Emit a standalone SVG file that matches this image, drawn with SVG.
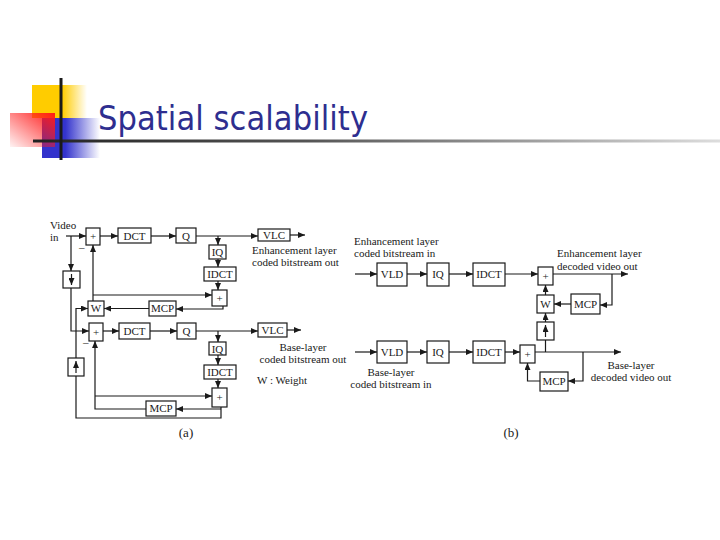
<svg xmlns="http://www.w3.org/2000/svg" width="720" height="540" viewBox="0 0 720 540">
<style>
.box{fill:#fff;stroke:#1a1a1a;stroke-width:1.2}
.bl{font-family:"Liberation Serif","Times New Roman",serif;font-size:11px;fill:#1a1a1a;text-anchor:middle}
.tx{font-family:"Liberation Serif","Times New Roman",serif;font-size:11px;fill:#1a1a1a}
.cap{font-family:"Liberation Serif","Times New Roman",serif;font-size:13px;fill:#1a1a1a;text-anchor:middle}
.ln{fill:none;stroke:#1a1a1a;stroke-width:1.2}
.ar{marker-end:url(#ah)}
</style>
<defs>
<marker id="ah" markerUnits="userSpaceOnUse" markerWidth="7" markerHeight="6" refX="7" refY="3" orient="auto">
<path d="M0,0 L7,3 L0,6 z" fill="#1a1a1a"/>
</marker>
<linearGradient id="gy" x1="0" y1="0" x2="1" y2="0">
<stop offset="0" stop-color="#ffcc00"/><stop offset="0.55" stop-color="#ffcc00"/><stop offset="1" stop-color="#ffcc00" stop-opacity="0"/>
</linearGradient>
<linearGradient id="gb" x1="0" y1="0" x2="1" y2="0">
<stop offset="0" stop-color="#3333cc"/><stop offset="0.4" stop-color="#3333cc"/><stop offset="1" stop-color="#3333cc" stop-opacity="0"/>
</linearGradient>
<linearGradient id="gr" x1="1" y1="0" x2="0" y2="1">
<stop offset="0" stop-color="#ff1a1a"/><stop offset="1" stop-color="#ff1a1a" stop-opacity="0.05"/>
</linearGradient>
<linearGradient id="gl" x1="0" y1="0" x2="1" y2="0">
<stop offset="0" stop-color="#222"/><stop offset="0.4" stop-color="#555"/><stop offset="1" stop-color="#ddd"/>
</linearGradient>
</defs>
<rect width="720" height="540" fill="#fff"/>

<g id="title-deco">
<rect x="32" y="85" width="55" height="33" fill="url(#gy)"/>
<rect x="42" y="118" width="58" height="40" fill="url(#gb)"/>
<rect x="10" y="113" width="45" height="34" fill="url(#gr)"/>
<rect x="33" y="139.5" width="687" height="3" fill="url(#gl)"/>
<rect x="59.5" y="78" width="3" height="82" fill="#1a1a1a"/>
</g>
<text id="title" x="98" y="130" font-family="'DejaVu Sans Condensed','DejaVu Sans',sans-serif" font-size="34" fill="#2e2e8f" textLength="270">Spatial scalability</text>

<g id="connectors">
<!-- (a) -->
<path class="ln ar" d="M66,236 H86"/>
<path class="ln ar" d="M71,236 V271"/>
<path class="ln ar" d="M100,236 H118"/>
<path class="ln ar" d="M151,236 H176"/>
<path class="ln ar" d="M196,236 H258"/>
<path class="ln ar" d="M290,235 H305"/>
<path class="ln ar" d="M218,236 V245"/>
<path class="ln ar" d="M218,259 V267"/>
<path class="ln ar" d="M218,281 V290"/>
<path class="ln ar" d="M93,301 V245"/>
<path class="ln ar" d="M93,295 H212"/>
<path class="ln ar" d="M223,306 V309 H176"/>
<path class="ln ar" d="M149,308.5 H104"/>
<path class="ln ar" d="M71,288 V331 H89"/>
<path class="ln ar" d="M76,358 V308.5 H88"/>
<path class="ln ar" d="M103,331 H119"/>
<path class="ln ar" d="M150,331 H177"/>
<path class="ln ar" d="M196,331 H258"/>
<path class="ln ar" d="M287,330 H301"/>
<path class="ln ar" d="M218,331 V342"/>
<path class="ln ar" d="M218,355 V365"/>
<path class="ln ar" d="M218,379 V388"/>
<path class="ln ar" d="M146,409 H95 V341"/>
<path class="ln ar" d="M95,396 H212"/>
<path class="ln" d="M221,407 V418 H76 V376"/>
<path class="ln ar" d="M221,409 H176"/>
<!-- (b) -->
<path class="ln ar" d="M355,274 H377"/>
<path class="ln ar" d="M407,274 H427"/>
<path class="ln ar" d="M449,274 H473"/>
<path class="ln ar" d="M505,274 H538"/>
<path class="ln ar" d="M553,274 H628"/>
<path class="ln ar" d="M612,274 V305 H600"/>
<path class="ln ar" d="M571,304 H554"/>
<path class="ln ar" d="M545.5,295 V285"/>
<path class="ln ar" d="M545.5,322 V313"/>
<path class="ln ar" d="M355,352 H377"/>
<path class="ln ar" d="M407,352 H427"/>
<path class="ln ar" d="M449,352 H473"/>
<path class="ln ar" d="M505,352 H520"/>
<path class="ln ar" d="M535,352 H621"/>
<path class="ln" d="M545.5,352 V340"/>
<path class="ln ar" d="M583,352 V381 H568"/>
<path class="ln ar" d="M540,381 H527.5 V363"/>
</g>

<!-- (a) nodes -->
<g id="a-add1"><rect class="box" x="86" y="228" width="14" height="17"/><text class="bl" x="93" y="240">+</text></g>
<g id="a-dct1"><rect class="box" x="118" y="228" width="33" height="15"/><text class="bl" x="134.5" y="239.5">DCT</text></g>
<g id="a-q1"><rect class="box" x="176" y="228" width="20" height="15"/><text class="bl" x="186" y="239.5">Q</text></g>
<g id="a-vlc1"><rect class="box" x="258" y="229" width="32" height="12"/><text class="bl" x="274" y="239">VLC</text></g>
<g id="a-iq1"><rect class="box" x="209" y="245" width="17" height="14"/><text class="bl" x="217.5" y="256">IQ</text></g>
<g id="a-idct1"><rect class="box" x="204" y="267" width="32" height="14"/><text class="bl" x="220" y="278">IDCT</text></g>
<g id="a-sum1"><rect class="box" x="212" y="290" width="15" height="16"/><text class="bl" x="219.5" y="301.5">+</text></g>
<g id="a-down"><rect class="box" x="63" y="271" width="17" height="17"/><path class="ln ar" d="M71.5,274 V285"/></g>
<g id="a-w"><rect class="box" x="88" y="301" width="16" height="15"/><text class="bl" x="96" y="312">W</text></g>
<g id="a-mcp1"><rect class="box" x="149" y="301" width="27" height="15"/><text class="bl" x="162.5" y="312">MCP</text></g>
<g id="a-add2"><rect class="box" x="89" y="323" width="14" height="18"/><text class="bl" x="96" y="335.5">+</text></g>
<g id="a-dct2"><rect class="box" x="119" y="323" width="31" height="16"/><text class="bl" x="134.5" y="334.5">DCT</text></g>
<g id="a-q2"><rect class="box" x="177" y="323" width="19" height="16"/><text class="bl" x="186.5" y="334.5">Q</text></g>
<g id="a-vlc2"><rect class="box" x="258" y="323" width="29" height="14"/><text class="bl" x="272.5" y="334">VLC</text></g>
<g id="a-iq2"><rect class="box" x="209" y="342" width="17" height="13"/><text class="bl" x="217.5" y="352.5">IQ</text></g>
<g id="a-idct2"><rect class="box" x="204" y="365" width="32" height="14"/><text class="bl" x="220" y="376">IDCT</text></g>
<g id="a-sum2"><rect class="box" x="212" y="388" width="15" height="19"/><text class="bl" x="219.5" y="401">+</text></g>
<g id="a-up"><rect class="box" x="68" y="358" width="16" height="18"/><path class="ln ar" d="M76,373 V361"/></g>
<g id="a-mcp2"><rect class="box" x="146" y="401" width="30" height="15"/><text class="bl" x="161" y="412">MCP</text></g>

<!-- (b) nodes -->
<g id="b-vld1"><rect class="box" x="377" y="263" width="30" height="23"/><text class="bl" x="392" y="278">VLD</text></g>
<g id="b-iq1"><rect class="box" x="427" y="263" width="22" height="23"/><text class="bl" x="438" y="278">IQ</text></g>
<g id="b-idct1"><rect class="box" x="473" y="263" width="32" height="23"/><text class="bl" x="489" y="278">IDCT</text></g>
<g id="b-sum1"><rect class="box" x="538" y="267" width="15" height="18"/><text class="bl" x="545.5" y="279.5">+</text></g>
<g id="b-w"><rect class="box" x="537" y="295" width="17" height="18"/><text class="bl" x="545.5" y="308">W</text></g>
<g id="b-mcp1"><rect class="box" x="571" y="294" width="29" height="20"/><text class="bl" x="585.5" y="308">MCP</text></g>
<g id="b-up"><rect class="box" x="537" y="322" width="17" height="18"/><path class="ln ar" d="M545.5,337 V325"/></g>
<g id="b-vld2"><rect class="box" x="377" y="341" width="30" height="22"/><text class="bl" x="392" y="356">VLD</text></g>
<g id="b-iq2"><rect class="box" x="427" y="341" width="22" height="22"/><text class="bl" x="438" y="356">IQ</text></g>
<g id="b-idct2"><rect class="box" x="473" y="341" width="32" height="22"/><text class="bl" x="489" y="356">IDCT</text></g>
<g id="b-sum2"><rect class="box" x="520" y="345" width="15" height="18"/><text class="bl" x="527.5" y="357.5">+</text></g>
<g id="b-mcp2"><rect class="box" x="540" y="372" width="28" height="19"/><text class="bl" x="554" y="385">MCP</text></g>

<g id="labels">
<text class="tx" x="50" y="229">Video</text>
<text class="tx" x="50" y="241">in</text>
<text class="tx" x="79" y="251">–</text>
<text class="tx" x="83" y="346">–</text>
<text class="tx" x="252" y="254">Enhancement layer</text>
<text class="tx" x="252" y="266">coded bitstream out</text>
<text class="bl" x="303" y="351">Base-layer</text>
<text class="bl" x="303" y="363">coded bitstream out</text>
<text class="tx" x="257" y="384">W : Weight</text>
<text class="cap" x="186" y="437">(a)</text>
<text class="tx" x="354" y="245">Enhancement layer</text>
<text class="tx" x="354" y="257">coded bitstream in</text>
<text class="tx" x="557" y="257">Enhancement layer</text>
<text class="tx" x="557" y="270">decoded video out</text>
<text class="bl" x="391" y="376">Base-layer</text>
<text class="bl" x="391" y="388">coded bitstream in</text>
<text class="bl" x="631" y="369">Base-layer</text>
<text class="bl" x="631" y="381">decoded video out</text>
<text class="cap" x="511" y="437">(b)</text>
</g>
</svg>
